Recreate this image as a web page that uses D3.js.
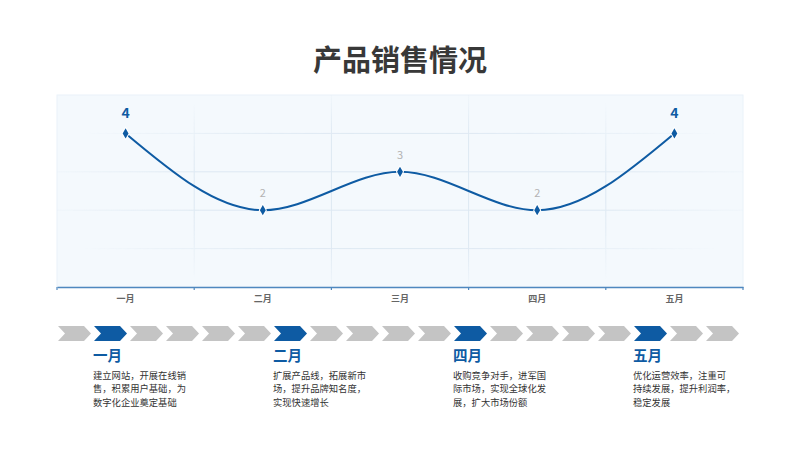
<!DOCTYPE html>
<html>
<head>
<meta charset="utf-8">
<script src="https://cdn.jsdelivr.net/npm/d3@7"></script>
<style>
  body { margin: 0; background: #fff; }
  svg text { font-family: "Noto Sans CJK SC", "Noto Sans", sans-serif; }
</style>
</head>
<body>
<svg id="chart"></svg>
<script>
const width = 800;
const height = 450;
const plot = { top: 95, left: 57, bottom: 287, right: 743 };

// data
const title = "产品销售情况";
const categories = ["一月", "二月", "三月", "四月", "五月"];
const sales = [4, 2, 3, 2, 4];
const yTicks = [1, 2, 3, 4];

const chevronCount = 19;
const milestoneIndex = [1, 6, 11, 16];
const milestoneTitles = ["一月", "二月", "四月", "五月"];
const milestoneLines = [
  ["建立网站，开展在线销", "售，积累用户基础，为", "数字化企业奠定基础"],
  ["扩展产品线，拓展新市", "场，提升品牌知名度，", "实现快速增长"],
  ["收购竞争对手，进军国", "际市场，实现全球化发", "展，扩大市场份额"],
  ["优化运营效率，注重可", "持续发展，提升利润率，", "稳定发展"]
];

const blue = "#0e5ba3";
const svg = d3.select("#chart").attr("width", width).attr("height", height);

svg.append("text")
  .attr("x", width / 2).attr("y", 71)
  .attr("text-anchor", "middle")
  .style("font-size", "29px").style("font-weight", "bold")
  .style("fill", "#383838")
  .text(title);

const x = d3.scaleBand().domain(categories).range([plot.left, plot.right]);
const y = d3.scaleLinear().domain([0, 5]).range([plot.bottom, plot.top]);
const cx = (d) => x(d) + x.bandwidth() / 2;

// fade mask for grid
const defs = svg.append("defs");
const rg = defs.append("radialGradient").attr("id", "fade")
  .attr("cx", "50%").attr("cy", "50%").attr("r", "55%");
rg.append("stop").attr("offset", "55%").attr("stop-color", "#fff");
rg.append("stop").attr("offset", "100%").attr("stop-color", "#000");
defs.append("mask").attr("id", "gridMask")
  .append("rect")
  .attr("x", plot.left).attr("y", plot.top)
  .attr("width", plot.right - plot.left).attr("height", plot.bottom - plot.top)
  .attr("fill", "url(#fade)");

svg.append("rect")
  .attr("x", plot.left).attr("y", plot.top)
  .attr("width", plot.right - plot.left).attr("height", plot.bottom - plot.top)
  .attr("fill", "#f4f9fd").attr("stroke", "#eaf2f9");

const grid = svg.append("g").attr("mask", "url(#gridMask)")
  .attr("stroke", "#dde8f2").attr("stroke-width", 1);
grid.selectAll("line.h").data(yTicks).enter().append("line")
  .attr("x1", plot.left).attr("x2", plot.right)
  .attr("y1", (d) => y(d)).attr("y2", (d) => y(d));
grid.selectAll("line.v").data(categories.slice(1)).enter().append("line")
  .attr("x1", (d) => x(d)).attr("x2", (d) => x(d))
  .attr("y1", plot.top).attr("y2", plot.bottom);

// axis
const axis = svg.append("g")
  .attr("transform", `translate(0,${plot.bottom})`)
  .call(d3.axisBottom(x).tickSize(0).tickPadding(9));
axis.select(".domain").attr("stroke", "#4f88bf").attr("stroke-width", 1.5);
axis.selectAll("text")
  .style("font-size", "9px").style("font-weight", "bold").style("fill", "#666");
axis.selectAll("line.edge")
  .data(categories.concat(["end"])).enter().append("line")
  .attr("class", "edge")
  .attr("x1", (d, i) => i < categories.length ? x(d) : plot.right)
  .attr("x2", (d, i) => i < categories.length ? x(d) : plot.right)
  .attr("y1", 0).attr("y2", 3)
  .attr("stroke", "#4f88bf").attr("stroke-width", 1.2);

// line
const line = d3.line()
  .x((d, i) => cx(categories[i]))
  .y((d) => y(d))
  .curve(d3.curveMonotoneX);
svg.append("path").datum(sales)
  .attr("d", line)
  .attr("fill", "none").attr("stroke", blue).attr("stroke-width", 2);

const maxVal = d3.max(sales);
svg.selectAll("path.pt").data(sales).enter().append("path")
  .attr("class", "pt")
  .attr("d", d3.symbol(d3.symbolDiamond, 30))
  .attr("transform", (d, i) => `translate(${cx(categories[i])},${y(d)})`)
  .attr("fill", blue).attr("stroke", "#fff").attr("stroke-width", 2)
  .attr("paint-order", "stroke");

svg.selectAll("text.lbl").data(sales).enter().append("text")
  .attr("class", "lbl")
  .attr("x", (d, i) => cx(categories[i]))
  .attr("y", (d) => y(d) - (d === maxVal ? 15 : 13))
  .attr("text-anchor", "middle")
  .style("font-size", (d) => d === maxVal ? "14px" : "11px")
  .style("font-weight", (d) => d === maxVal ? "bold" : "normal")
  .style("fill", (d) => d === maxVal ? blue : "#b3b3b3")
  .text((d) => d);

// chevron timeline
const chev = d3.scaleBand().domain(d3.range(chevronCount)).range([58, 742]);
const cw = chev.bandwidth() - 3, ch = 15, depth = 7, cy = 333.5;
svg.selectAll("path.chev").data(d3.range(chevronCount)).enter().append("path")
  .attr("class", "chev")
  .attr("d", (i) => {
    const x0 = chev(i);
    return `M${x0},${cy - ch / 2}L${x0 + cw - depth},${cy - ch / 2}L${x0 + cw},${cy}` +
      `L${x0 + cw - depth},${cy + ch / 2}L${x0},${cy + ch / 2}L${x0 + depth},${cy}Z`;
  })
  .attr("fill", (i) => milestoneIndex.includes(i) ? blue : "#c4c4c4");

const blocks = svg.selectAll("g.ms").data(milestoneTitles).enter().append("g")
  .attr("class", "ms")
  .attr("transform", (d, i) => `translate(${chev(milestoneIndex[i]) - 1},0)`);
blocks.append("text")
  .attr("y", 361)
  .style("font-size", "14.5px").style("font-weight", "bold").style("fill", blue)
  .text((d) => d);
// each description is one paragraph with a tspan per line
blocks.append("text")
  .attr("class", "body")
  .attr("y", 378.5)
  .style("font-size", "9.3px").style("fill", "#333")
  .selectAll("tspan")
  .data((d, i) => milestoneLines[i])
  .enter().append("tspan")
  .attr("x", 0)
  .attr("dy", (t, j) => j === 0 ? 0 : 13.5)
  .text((t) => t);
</script>
</body>
</html>
